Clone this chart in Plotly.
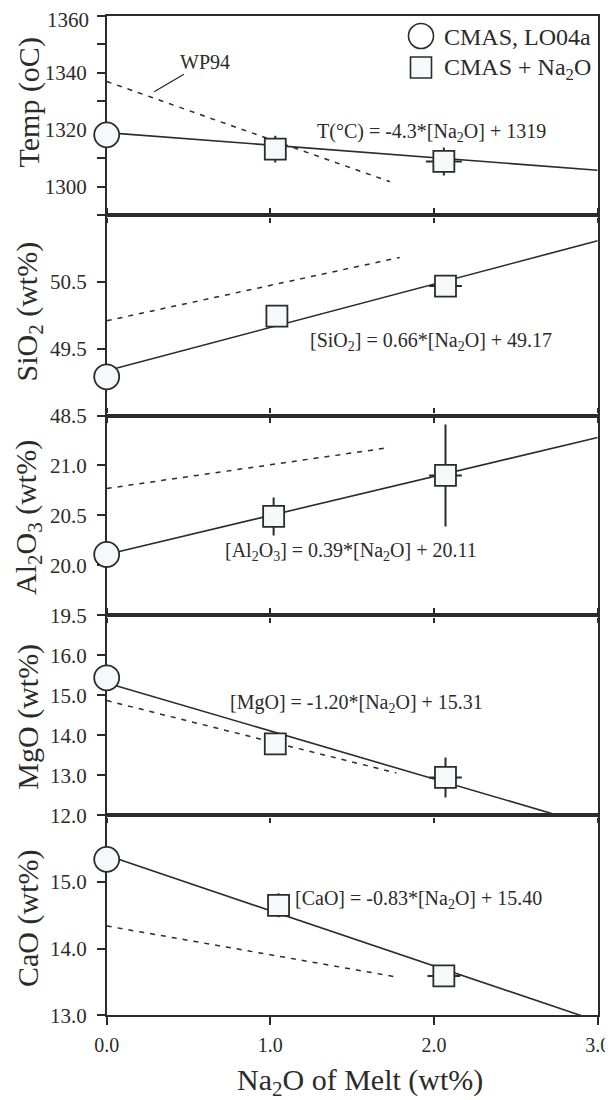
import plotly.graph_objects as go

FONT = "Liberation Serif"
INK = "#2b2b2b"
FILL = "#f6f9f9"

# ---------------- data ----------------
x_circle = [0.0]

# Temperature panel
temp_circle_y = [1318.2]
temp_sq_x = [1.03, 2.06]
temp_sq_y = [1313.2, 1308.9]
temp_sq_yerr = [4.7, 4.9]
temp_sq_xerr = [0.0, 0.11]
temp_fit_x = [0.0, 3.0]
temp_fit_y = [1319.0, 1305.8]
temp_wp_x = [0.0, 1.73]
temp_wp_y = [1336.9, 1301.8]

# SiO2 panel
sio2_circle_y = [49.08]
sio2_sq_x = [1.04, 2.07]
sio2_sq_y = [49.99, 50.44]
sio2_sq_yerr = [0.0, 0.0]
sio2_sq_xerr = [0.0, 0.1]
sio2_fit_x = [0.0, 3.0]
sio2_fit_y = [49.17, 51.12]
sio2_wp_x = [0.0, 1.79]
sio2_wp_y = [49.92, 50.87]

# Al2O3 panel
al_circle_y = [20.11]
al_sq_x = [1.02, 2.07]
al_sq_y = [20.49, 20.90]
al_sq_yerr = [0.19, 0.51]
al_sq_xerr = [0.0, 0.1]
al_fit_x = [0.0, 3.0]
al_fit_y = [20.11, 21.28]
al_wp_x = [0.0, 1.73]
al_wp_y = [20.77, 21.18]

# MgO panel
mg_circle_y = [15.44]
mg_sq_x = [1.03, 2.07]
mg_sq_y = [13.79, 12.95]
mg_sq_yerr = [0.0, 0.5]
mg_sq_xerr = [0.0, 0.1]
mg_fit_x = [0.0, 3.0]
mg_fit_y = [15.31, 11.71]
mg_wp_x = [0.0, 1.77]
mg_wp_y = [14.87, 13.06]

# CaO panel
ca_circle_y = [15.34]
ca_sq_x = [1.05, 2.06]
ca_sq_y = [14.65, 13.59]
ca_sq_yerr = [0.18, 0.0]
ca_sq_xerr = [0.0, 0.1]
ca_fit_x = [0.0, 3.0]
ca_fit_y = [15.40, 12.91]
ca_wp_x = [0.0, 1.78]
ca_wp_y = [14.34, 13.57]

# axis ranges and ticks
temp_range = [1290, 1360]
sio2_range = [48.5, 51.5]
al_range = [19.5, 21.5]
mg_range = [12.0, 17.0]
ca_range = [13.0, 16.0]

temp_ticks = [1290, 1300, 1310, 1320, 1330, 1340, 1350, 1360]
# the top label "1360" is nudged down inside the page in the original, drawn separately below
temp_ticktext = ["", "1300", "", "1320", "", "1340", "", ""]
temp_top_label = "1360"
sio2_ticks = [48.5, 49.5, 50.5]
al_ticks = [19.5, 20.0, 20.5, 21.0]
mg_ticks = [12.0, 13.0, 14.0, 15.0, 16.0]
ca_ticks = [13.0, 14.0, 15.0]

x_ticks = [0.0, 1.0, 2.0, 3.0]
x_ticktext = ["0.0", "1.0", "2.0", "3.0"]

y_titles = ["Temp (oC)", "SiO<sub>2</sub> (wt%)", "Al<sub>2</sub>O<sub>3</sub> (wt%)",
            "MgO (wt%)", "CaO (wt%)"]
equations = [
    "T(°C) = -4.3*[Na<sub>2</sub>O] + 1319",
    "[SiO<sub>2</sub>] = 0.66*[Na<sub>2</sub>O] + 49.17",
    "[Al<sub>2</sub>O<sub>3</sub>] = 0.39*[Na<sub>2</sub>O] + 20.11",
    "[MgO] = -1.20*[Na<sub>2</sub>O] + 15.31",
    "[CaO] = -0.83*[Na<sub>2</sub>O] + 15.40",
]
eq_x = [1.272, 1.23, 0.709, 0.743, 1.136]
eq_y = [1318.9, 49.61, 20.136, 14.81, 14.73]

legend_labels = ["CMAS, LO04a", "CMAS + Na<sub>2</sub>O"]

# ---------------- layout geometry ----------------
# the page body has an 8px margin, so the figure sits 8px in from the window's corner
OFF = 8
W, H = 613 - OFF, 1100 - OFF
X0, X1 = 106.7, 597.7
bounds = [15.5, 215.4, 415.5, 615.4, 815.4, 1015.2]
title_centers = [102.5, 311.5, 518.0, 716.7, 919.0]


def px(p):
    return (p - OFF) / W


def py(p):
    return 1 - (p - OFF) / H


panels = [
    (temp_circle_y, temp_sq_x, temp_sq_y, temp_sq_xerr, temp_sq_yerr,
     temp_fit_x, temp_fit_y, temp_wp_x, temp_wp_y, temp_range, temp_ticks, temp_ticktext),
    (sio2_circle_y, sio2_sq_x, sio2_sq_y, sio2_sq_xerr, sio2_sq_yerr,
     sio2_fit_x, sio2_fit_y, sio2_wp_x, sio2_wp_y, sio2_range, sio2_ticks, None),
    (al_circle_y, al_sq_x, al_sq_y, al_sq_xerr, al_sq_yerr,
     al_fit_x, al_fit_y, al_wp_x, al_wp_y, al_range, al_ticks, None),
    (mg_circle_y, mg_sq_x, mg_sq_y, mg_sq_xerr, mg_sq_yerr,
     mg_fit_x, mg_fit_y, mg_wp_x, mg_wp_y, mg_range, mg_ticks, None),
    (ca_circle_y, ca_sq_x, ca_sq_y, ca_sq_xerr, ca_sq_yerr,
     ca_fit_x, ca_fit_y, ca_wp_x, ca_wp_y, ca_range, ca_ticks, None),
]

fig = go.Figure()
layout = dict(
    template="none",
    width=W, height=H,
    margin=dict(l=0, r=0, t=0, b=0, pad=0),
    paper_bgcolor="white", plot_bgcolor="white",
    showlegend=False,
    font=dict(family=FONT, color=INK),
)
annotations = []
shapes = []

for i, (cy, sx, sy, sxe, sye, fx, fy, wx, wy, yr, yt, ytt) in enumerate(panels):
    n = i + 1
    xa = "x" if n == 1 else f"x{n}"
    ya = "y" if n == 1 else f"y{n}"
    xkey = "xaxis" if n == 1 else f"xaxis{n}"
    ykey = "yaxis" if n == 1 else f"yaxis{n}"

    # WP94 dashed line
    fig.add_trace(go.Scatter(x=wx, y=wy, mode="lines", xaxis=xa, yaxis=ya,
                             line=dict(color=INK, width=1.5, dash="5px,6px")))
    # fitted line
    fig.add_trace(go.Scatter(x=fx, y=fy, mode="lines", xaxis=xa, yaxis=ya,
                             line=dict(color=INK, width=1.6)))
    # CMAS + Na2O squares with error bars
    fig.add_trace(go.Scatter(
        x=sx, y=sy, mode="markers", xaxis=xa, yaxis=ya, cliponaxis=False,
        marker=dict(symbol="square", size=21, color=FILL, line=dict(color=INK, width=1.8)),
        error_y=dict(type="data", array=sye, visible=True, color=INK, thickness=2, width=0),
        error_x=dict(type="data", array=sxe, visible=True, color=INK, thickness=2, width=0),
    ))
    # CMAS LO04a circle
    fig.add_trace(go.Scatter(
        x=x_circle, y=cy, mode="markers", xaxis=xa, yaxis=ya, cliponaxis=False,
        marker=dict(symbol="circle", size=25, color=FILL, line=dict(color=INK, width=1.8)),
    ))

    top = bounds[i]
    bot = bounds[i + 1]
    last = (n == 5)
    layout[xkey] = dict(
        domain=[px(X0), px(X1)], range=[0, 3], anchor=ya, automargin=False,
        showgrid=False, zeroline=False, showline=True, linecolor=INK, linewidth=2.4,
        mirror=(True if n in (1, 5) else "allticks"),
        ticks="outside", ticklen=(8 if last else 5), tickwidth=2, tickcolor=INK,
        tickvals=x_ticks, ticktext=x_ticktext,
        showticklabels=last, tickfont=dict(family=FONT, size=20, color=INK),
        ticklabelstandoff=3, ticklabeloverflow="allow", layer="below traces",
    )
    yd = dict(
        domain=[py(bot), py(top)], range=yr, anchor=xa, automargin=False,
        showgrid=False, zeroline=False, showline=True, linecolor=INK, linewidth=1.6,
        mirror=True, ticks="outside", ticklen=8, tickwidth=2, tickcolor=INK,
        tickvals=yt, tickfont=dict(family=FONT, size=21, color=INK),
        ticklabelstandoff=6, ticklabeloverflow="allow", layer="below traces",
    )
    if ytt is not None:
        yd["ticktext"] = ytt
    else:
        yd["tickformat"] = ".1f"
    layout[ykey] = yd

    # y axis title
    annotations.append(dict(
        text=y_titles[i], xref="paper", yref="paper", x=px(28), y=py(title_centers[i]),
        xanchor="center", yanchor="middle", textangle=-90, showarrow=False,
        font=dict(family=FONT, size=30, color=INK)))
    # equation
    annotations.append(dict(
        text=equations[i], xref=xa, yref=ya, x=eq_x[i], y=eq_y[i],
        xanchor="left", yanchor="middle", showarrow=False,
        font=dict(family=FONT, size=20, color=INK)))

# top temperature label, nudged inside the page as in the original
annotations.append(dict(
    text=temp_top_label, xref="paper", yref="paper", x=px(91), y=py(20.5),
    xanchor="right", yanchor="middle", showarrow=False,
    font=dict(family=FONT, size=21, color=INK)))

# WP94 label with leader line
annotations.append(dict(
    text="WP94", xref="x", yref="y", x=0.29, y=1333.3, ax=51, ay=-30,
    showarrow=True, arrowhead=0, arrowwidth=1.4, arrowcolor=INK,
    font=dict(family=FONT, size=20, color=INK)))

# x axis title
annotations.append(dict(
    text="Na<sub>2</sub>O of Melt (wt%)", xref="paper", yref="paper",
    x=px(360.5), y=py(1082), xanchor="center", yanchor="middle", showarrow=False,
    font=dict(family=FONT, size=30, color=INK)))

# legend
LX = px(421)
shapes.append(dict(type="circle", xref="paper", yref="paper", xsizemode="pixel", ysizemode="pixel",
                   xanchor=LX, yanchor=py(36), x0=-12.5, x1=12.5, y0=-12.5, y1=12.5,
                   line=dict(color=INK, width=1.6), fillcolor="white"))
shapes.append(dict(type="rect", xref="paper", yref="paper", xsizemode="pixel", ysizemode="pixel",
                   xanchor=LX, yanchor=py(67.5), x0=-10.5, x1=10.5, y0=-10.5, y1=10.5,
                   line=dict(color=INK, width=1.6), fillcolor=FILL))
for k, (lab, yc) in enumerate(zip(legend_labels, [36.5, 68.5])):
    annotations.append(dict(
        text=lab, xref="paper", yref="paper", x=px(442), y=py(yc),
        xanchor="left", yanchor="middle", showarrow=False,
        font=dict(family=FONT, size=24, color=INK)))

layout["annotations"] = annotations
layout["shapes"] = shapes
fig.update_layout(**layout)
fig.write_html("out.html")
